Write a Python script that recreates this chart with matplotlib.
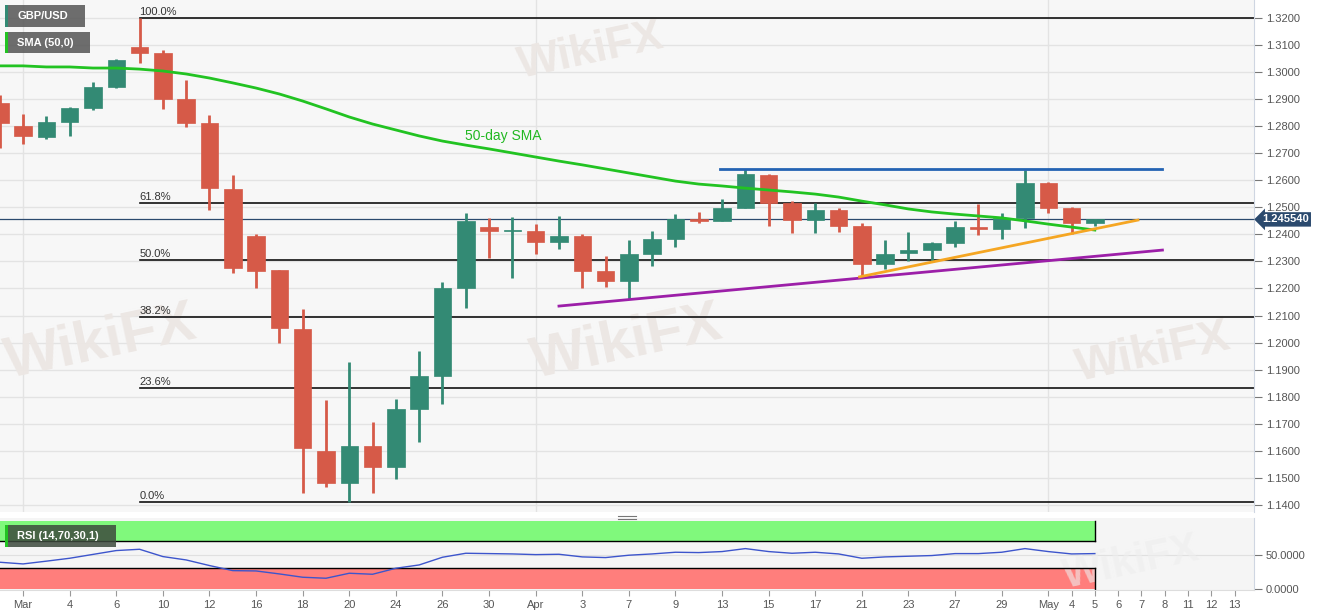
import numpy as np
import matplotlib
matplotlib.use('Agg')
from matplotlib import pyplot as plt
from matplotlib.patches import Rectangle
from matplotlib.lines import Line2D

plt.rcParams['font.family'] = ['Liberation Sans', 'DejaVu Sans']

# daily candles, Feb 28 .. May 5 (2020)
dates = ['Feb 28', 'Mar 2', 'Mar 3', 'Mar 4', 'Mar 5', 'Mar 6', 'Mar 9', 'Mar 10', 'Mar 11',
         'Mar 12', 'Mar 13', 'Mar 16', 'Mar 17', 'Mar 18', 'Mar 19', 'Mar 20', 'Mar 23',
         'Mar 24', 'Mar 25', 'Mar 26', 'Mar 27', 'Mar 30', 'Mar 31', 'Apr 1', 'Apr 2',
         'Apr 3', 'Apr 6', 'Apr 7', 'Apr 8', 'Apr 9', 'Apr 10', 'Apr 13', 'Apr 14', 'Apr 15',
         'Apr 16', 'Apr 17', 'Apr 20', 'Apr 21', 'Apr 22', 'Apr 23', 'Apr 24', 'Apr 27',
         'Apr 28', 'Apr 29', 'Apr 30', 'May 1', 'May 4', 'May 5']
opens = [1.2886, 1.2800, 1.2760, 1.2815, 1.2867, 1.2945, 1.3093, 1.3071, 1.2901, 1.2812,
         1.2568, 1.2394, 1.2268, 1.2050, 1.1600, 1.1481, 1.1618, 1.1540, 1.1755, 1.1877,
         1.2202, 1.2427, 1.2413, 1.2413, 1.2372, 1.2394, 1.2265, 1.2228, 1.2328, 1.2383,
         1.2457, 1.2450, 1.2498, 1.2620, 1.2516, 1.2453, 1.2490, 1.2431, 1.2291, 1.2331,
         1.2342, 1.2368, 1.2427, 1.2420, 1.2461, 1.2590, 1.2498, 1.2442]
highs = [1.2915, 1.2845, 1.2837, 1.2870, 1.2963, 1.3047, 1.3200, 1.3082, 1.2971, 1.2841,
         1.2620, 1.2400, 1.2270, 1.2124, 1.1788, 1.1928, 1.1707, 1.1792, 1.1969, 1.2224,
         1.2479, 1.2460, 1.2464, 1.2438, 1.2468, 1.2401, 1.2320, 1.2379, 1.2413, 1.2475,
         1.2483, 1.2531, 1.2642, 1.2624, 1.2524, 1.2516, 1.2498, 1.2442, 1.2379, 1.2409,
         1.2372, 1.2450, 1.2513, 1.2479, 1.2638, 1.2594, 1.2501, 1.2457]
lows = [1.2719, 1.2734, 1.2752, 1.2764, 1.2860, 1.2941, 1.3034, 1.2864, 1.2797, 1.2490,
        1.2257, 1.2200, 1.1999, 1.1444, 1.1466, 1.1409, 1.1444, 1.1496, 1.1633, 1.1773,
        1.2128, 1.2313, 1.2239, 1.2328, 1.2346, 1.2202, 1.2206, 1.2161, 1.2283, 1.2353,
        1.2442, 1.2450, 1.2498, 1.2431, 1.2405, 1.2405, 1.2409, 1.2243, 1.2272, 1.2302,
        1.2302, 1.2353, 1.2398, 1.2383, 1.2424, 1.2479, 1.2402, 1.2431]
closes = [1.2812, 1.2764, 1.2815, 1.2867, 1.2945, 1.3045, 1.3071, 1.2901, 1.2812, 1.2572,
          1.2276, 1.2265, 1.2054, 1.1610, 1.1481, 1.1618, 1.1540, 1.1755, 1.1877, 1.2202,
          1.2451, 1.2413, 1.2415, 1.2372, 1.2394, 1.2265, 1.2228, 1.2328, 1.2383, 1.2457,
          1.2450, 1.2498, 1.2623, 1.2516, 1.2453, 1.2490, 1.2431, 1.2291, 1.2328, 1.2342,
          1.2368, 1.2427, 1.2420, 1.2461, 1.2590, 1.2498, 1.2442, 1.24554]
sma50 = [1.3023, 1.3023, 1.3019, 1.3019, 1.3015, 1.3015, 1.3011, 1.3004, 1.2993, 1.2978,
         1.2960, 1.2941, 1.2919, 1.2893, 1.2864, 1.2834, 1.2808, 1.2786, 1.2764, 1.2745,
         1.2730, 1.2716, 1.2701, 1.2686, 1.2671, 1.2657, 1.2642, 1.2627, 1.2612, 1.2597,
         1.2586, 1.2579, 1.2571, 1.2564, 1.2557, 1.2549, 1.2538, 1.2523, 1.2509, 1.2494,
         1.2483, 1.2475, 1.2468, 1.2461, 1.2450, 1.2438, 1.2427, 1.2416]
rsi = [38.9, 36.4, 40.5, 44.8, 50.5, 56.2, 58.1, 47.3, 42.3, 34.0, 26.5, 26.0, 21.6, 16.7,
       15.2, 22.6, 21.1, 30.0, 34.9, 46.3, 52.2, 51.7, 51.2, 50.2, 50.7, 46.8, 45.8, 49.3,
       51.2, 53.7, 53.2, 54.7, 59.1, 54.7, 52.2, 53.7, 51.2, 44.8, 46.8, 47.8, 48.8, 51.7,
       51.7, 53.7, 59.1, 54.7, 51.2, 51.7]

last_price = 1.245540

# fibonacci retracement of the Mar 9 high / Mar 20 low swing
fib_high = 1.3200
fib_low = 1.1409
fib_levels = [1.0, 0.618, 0.5, 0.382, 0.236, 0.0]
fib_names = ['100.0%', '61.8%', '50.0%', '38.2%', '23.6%', '0.0%']
fib_start = 'Mar 9'

# trend lines (bar index, price)
resist_x, resist_y = [29.9, 48.9], [1.2642, 1.2642]
support_x, support_y = [23.0, 48.9], [1.2135, 1.2342]
rising_x, rising_y = [35.9, 47.85], [1.2243, 1.2453]

# x tick labels (bar index -> label), incl. future days
tick_idx = list(range(0, 45, 2)) + [45, 46, 47, 48, 49, 50, 51, 52]
tick_lbl = ['Mar', '4', '6', '10', '12', '16', '18', '20', '24', '26', '30', 'Apr', '3', '7',
            '9', '13', '15', '17', '21', '23', '27', '29', 'May', '4', '5', '6', '7', '8',
            '11', '12', '13']
month_starts = [0, 22, 44]

W, H = 1331, 615
UP = '#338a74'
DOWN = '#d65a48'


def fx(px):
    return px / W


def fy(py):
    return 1 - py / H


x = np.arange(len(dates)) - 1
o = np.array(opens)
c = np.array(closes)
h = np.array(highs)
l = np.array(lows)

fig = plt.figure(figsize=(W / 100, H / 100), dpi=100)
fig.patch.set_facecolor('white')
ax = fig.add_axes([0, fy(512), fx(1254), 512 / H])
ax2 = fig.add_axes([0, fy(590), fx(1254), 72 / H])

xmin, xmax = -0.99, 52.83
ax.set_xlim(xmin, xmax)
ax.set_ylim(1.13737, 1.32665)
ax.set_facecolor('#f7f7f7')

# grid
for yv in np.arange(1.14, 1.3201, 0.01):
    ax.axhline(yv, color='#e3e3e3', lw=1, zorder=0)
for m in month_starts:
    ax.axvline(m, color='#e3e3e3', lw=1, zorder=0)

# watermarks
for (wx, wy, s) in [(0.41, 0.90, 32), (0.0, 0.33, 42), (0.42, 0.33, 42), (0.855, 0.31, 34)]:
    ax.text(wx, wy, 'WikiFX', transform=ax.transAxes, fontsize=s, fontweight='bold',
            color='#ece7e4', rotation=12, zorder=0.5, ha='left', va='center')

# candles
cols = np.where(c >= o, UP, DOWN)
ax.vlines(x, l, h, colors=cols, lw=2, zorder=3)
body = np.maximum(np.abs(c - o), 0.00035)
ax.bar(x, body, bottom=np.minimum(o, c), width=0.75, color=cols, zorder=4, edgecolor=cols, lw=0.5)

# SMA
ax.plot(x, sma50, color='#22c322', lw=2, zorder=5)
ax.text(18.97, 1.2764, '50-day SMA', color='#22b822', fontsize=10, va='center', zorder=6)

# fibonacci
fs = dates.index(fib_start) - 1
for lv, nm in zip(fib_levels, fib_names):
    py = fib_low + lv * (fib_high - fib_low)
    ax.plot([fs, xmax], [py, py], color='#111111', lw=1.2, zorder=2)
    ax.text(fs, py + 0.0005, nm, fontsize=8, color='#333333', va='bottom', ha='left', zorder=6)

# current price line
ax.axhline(last_price, color='#2b4a6e', lw=0.9, zorder=2)

# trend lines
ax.plot(resist_x, resist_y, color='#2463b3', lw=2, zorder=5)
ax.plot(support_x, support_y, color='#9c1fa8', lw=2, zorder=5)
ax.plot(rising_x, rising_y, color='#f5a623', lw=2, zorder=5)

# axis styling
ax.yaxis.tick_right()
ax.set_yticks(np.arange(1.14, 1.3201, 0.01))
ax.set_yticklabels(['%.4f' % v for v in np.arange(1.14, 1.3201, 0.01)])
ax.tick_params(axis='y', colors='#777777', labelcolor='#555555', labelsize=8, length=6,
               width=0.8, pad=2.5)
ax.set_xticks([])
for s in ['top', 'bottom', 'left']:
    ax.spines[s].set_visible(False)
ax.spines['right'].set_color('#cfd6e2')
ax.text(1262 / 1254, last_price, '1.245540', transform=ax.get_yaxis_transform(), va='center',
        ha='left', color='white', fontsize=8, fontweight='bold', zorder=10, clip_on=False,
        bbox=dict(boxstyle='larrow,pad=0.2', fc='#2b4a6e', ec='none'))

# RSI panel
ax2.set_xlim(xmin, xmax)
ax2.set_ylim(-2.2, 104.4)
ax2.set_facecolor('#f5f5f5')
last_i = x[-1]
ax2.add_patch(Rectangle((xmin, 70), last_i - xmin, 30, fc='#80f97c', ec='none', zorder=1))
ax2.add_patch(Rectangle((xmin, 0), last_i - xmin, 30, fc='#ff7e7c', ec='none', zorder=1))
ax2.plot([xmin, last_i], [70, 70], color='black', lw=1, zorder=2)
ax2.plot([xmin, last_i], [30, 30], color='black', lw=1, zorder=2)
ax2.plot([last_i, last_i], [70, 100], color='black', lw=1, zorder=2)
ax2.plot([last_i, last_i], [0, 30], color='black', lw=1, zorder=2)
ax2.axhline(50, color='#e0e0e0', lw=0.8, zorder=0.5)
ax2.plot(x, rsi, color='#3d55cc', lw=1, zorder=3)
ax2.text(0.845, 0.38, 'WikiFX', transform=ax2.transAxes, fontsize=30, fontweight='bold',
         color='#eeeeee', alpha=0.6, rotation=12, zorder=1.5, va='center')

ax2.yaxis.tick_right()
ax2.set_yticks([0, 50])
ax2.set_yticklabels(['0.0000', '50.0000'])
ax2.tick_params(axis='y', colors='#777777', labelcolor='#555555', labelsize=8, length=6,
                width=0.8, pad=2.5)
ax2.set_xticks(tick_idx)
ax2.set_xticklabels(tick_lbl)
ax2.tick_params(axis='x', colors='#999999', labelcolor='#555555', labelsize=8, length=4,
                width=0.8, pad=3)
for s in ['top', 'left']:
    ax2.spines[s].set_visible(False)
ax2.spines['right'].set_color('#cfd6e2')
ax2.spines['bottom'].set_color('#dddddd')

# separator handle
fig.add_artist(Line2D([fx(618), fx(636)], [fy(516), fy(516)], color='#777777', lw=0.8))
fig.add_artist(Line2D([fx(618), fx(636)], [fy(518.5), fy(518.5)], color='#777777', lw=0.8))


# legend boxes
def tag(x0, y0, w, hgt, strip, label, fc):
    fig.add_artist(Rectangle((fx(x0), fy(y0 + hgt)), fx(w), hgt / H, fc=fc, ec='none',
                             alpha=0.85, transform=fig.transFigure, zorder=20))
    fig.add_artist(Rectangle((fx(x0), fy(y0 + hgt)), fx(2.5), hgt / H, fc=strip, ec='none',
                             transform=fig.transFigure, zorder=21))
    fig.text(fx(x0 + 12), fy(y0 + hgt / 2), label, color='white', fontsize=8,
             fontweight='bold', va='center', ha='left', zorder=22)


tag(5, 5, 80, 22, UP, 'GBP/USD', '#555555')
tag(5, 32, 85, 21, '#22c322', 'SMA (50,0)', '#555555')
tag(5, 525, 111, 22, '#22c322', 'RSI (14,70,30,1)', '#3d4a3d')

fig.savefig('out.png', dpi=100)
